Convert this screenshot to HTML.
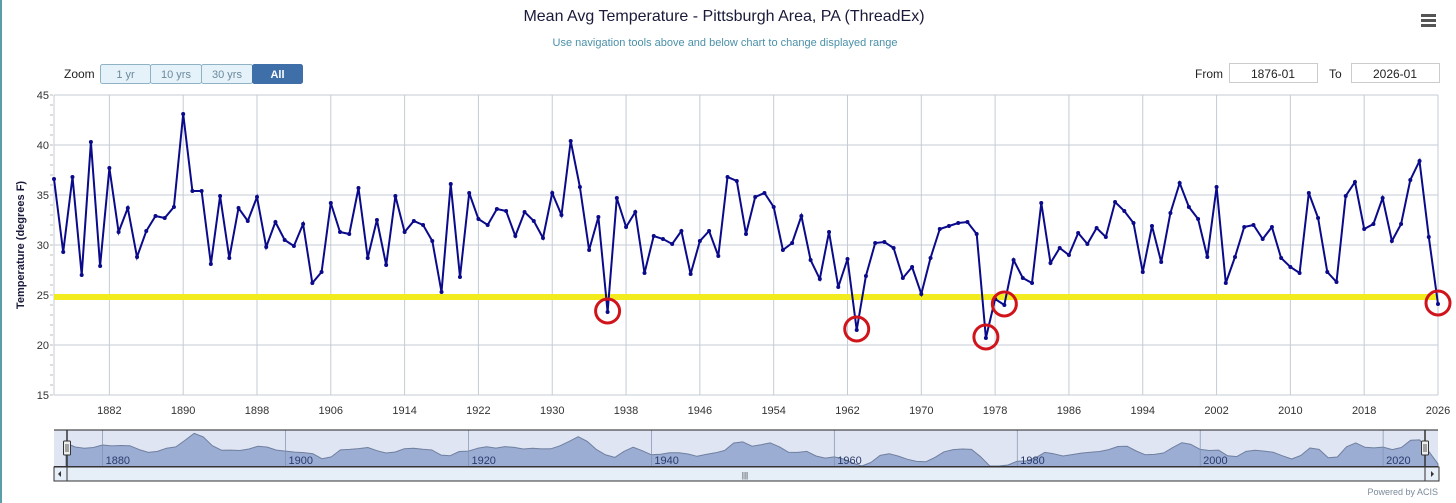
<!DOCTYPE html>
<html><head><meta charset="utf-8"><style>
html,body{margin:0;padding:0;background:#fff;width:1456px;height:503px;overflow:hidden;font-family:"Liberation Sans",sans-serif}
svg{position:absolute;left:0;top:0}
</style></head><body>
<svg id="c" width="1456" height="503" xmlns="http://www.w3.org/2000/svg"></svg>
<script>
const years=[];for(let y=1876;y<=2026;y++)years.push(y);
const temps=[36.6,29.3,36.8,27.0,40.3,27.9,37.7,31.3,33.7,28.8,31.4,32.9,32.7,33.8,43.1,35.4,35.4,28.1,34.9,28.7,33.7,32.4,34.8,29.8,32.3,30.5,29.9,32.1,26.2,27.3,34.2,31.3,
31.1,35.7,28.7,32.5,28.0,34.9,31.3,32.4,32.0,30.4,25.3,36.1,26.8,35.2,32.6,32.0,33.6,33.4,30.9,33.3,32.4,30.7,35.2,33.0,40.4,35.8,29.5,32.8,23.3,34.7,31.8,
33.3,27.2,30.9,30.6,30.1,31.4,27.1,30.4,31.4,28.9,36.8,36.4,31.1,34.8,35.2,33.8,29.5,30.2,32.9,28.5,26.6,31.3,25.8,28.6,21.5,26.9,30.2,30.3,29.7,26.7,27.8,
25.1,28.7,31.6,31.9,32.2,32.3,31.1,20.7,24.6,24.0,28.5,26.7,26.2,34.2,28.2,29.7,29.0,31.2,30.1,31.7,30.8,34.3,33.4,32.2,27.3,31.9,28.3,33.2,36.2,
33.8,32.6,28.8,35.8,26.2,28.8,31.8,32.0,30.6,31.8,28.7,27.8,27.2,35.2,32.7,27.3,26.3,34.9,36.3,31.6,32.1,34.7,30.4,32.1,36.5,38.4,30.8,24.1];
const threshold=24.8;
const circled=[1936,1963,1977,1979,2026];
const yTicks=[15,20,25,30,35,40,45];
const xTicks=[1882,1890,1898,1906,1914,1922,1930,1938,1946,1954,1962,1970,1978,1986,1994,2002,2010,2018,2026];
const navTicks=[1880,1900,1920,1940,1960,1980,2000,2020];

const NS="http://www.w3.org/2000/svg",svg=document.getElementById('c');
const L=54,R=1438,T=95,B=395;
const xs=y=>L+(y-1876)*(R-L)/150;
const ys=v=>T+(45-v)*(B-T)/30;
function mk(tag,at,parent){const e=document.createElementNS(NS,tag);for(const k in at)e.setAttribute(k,at[k]);(parent||svg).appendChild(e);return e;}
function tx(str,at){const e=mk('text',at);e.textContent=str;return e;}

let e=mk('line',{x1:1,y1:0,x2:1,y2:503,stroke:'#5a9ea6','stroke-width':2});


e=tx('Mean Avg Temperature - Pittsburgh Area, PA (ThreadEx)',{x:724,y:21,'text-anchor':'middle','font-size':16,fill:'#1a1a3a'});


e=tx('Use navigation tools above and below chart to change displayed range',{x:725,y:46,'text-anchor':'middle','font-size':11,fill:'#4a90a8'});


const hb=mk('g',{});


for(let i=0;i<3;i++)mk('rect',{x:1421,y:14+i*5,width:15,height:3,fill:'#555'},hb);
e=tx('Zoom',{x:64,y:78,'font-size':12,fill:'#222'});


const btns=[['1 yr',100,50],['10 yrs',150,51],['30 yrs',201,51],['All',252,50]];
btns.forEach((b,i)=>{const g=mk('g',{});


const act=i==3;
mk('rect',{x:b[1]+.5,y:64.5,width:b[2],height:19,rx:2,fill:act?'#3f6fa8':'#e6f2fa',stroke:act?'#3f6fa8':'#8fb3c4'},g);
const t=mk('text',{x:b[1]+b[2]/2+.5,y:78,'text-anchor':'middle','font-size':11,fill:act?'#fff':'#6a8a9a','font-weight':act?'bold':'normal'},g);t.textContent=b[0];});
e=tx('From',{x:1195,y:78,'font-size':12,fill:'#222'});


e=tx('To',{x:1329,y:78,'font-size':12,fill:'#222'});


[[1229,'1876-01','from-input'],[1351,'2026-01','to-input']].forEach(f=>{const g=mk('g',{});


mk('rect',{x:f[0]+.5,y:63.5,width:88,height:19,fill:'#fff',stroke:'#ccc'},g);
const t=mk('text',{x:f[0]+44,y:78,'text-anchor':'middle','font-size':12,fill:'#222'},g);t.textContent=f[1];});

const grid=mk('g',{});


yTicks.forEach(v=>{mk('line',{x1:L,x2:R,y1:ys(v),y2:ys(v),stroke:'#c4ccd4','stroke-width':1},grid);
const t=mk('text',{x:49,y:ys(v)+4,'text-anchor':'end','font-size':11,fill:'#333'},grid);t.textContent=v;});
for(let v=15;v<=45;v++)mk('line',{x1:L-4,x2:L-1,y1:ys(v),y2:ys(v),stroke:'#bbb'},grid);
xTicks.forEach(y=>{mk('line',{x1:xs(y),x2:xs(y),y1:T,y2:B,stroke:'#c4ccd4'},grid);
const t=mk('text',{x:xs(y),y:414,'text-anchor':'middle','font-size':11,fill:'#333'},grid);t.textContent=y;});
mk('line',{x1:L,x2:L,y1:T,y2:B,stroke:'#c4ccd4'},grid);
mk('line',{x1:R,x2:R,y1:T,y2:B,stroke:'#c4ccd4'},grid);
e=tx('Temperature (degrees F)',{x:0,y:0,transform:'translate(24,245) rotate(-90)','text-anchor':'middle','font-size':11,'font-weight':'bold',fill:'#1a1a3a'});



e=mk('line',{x1:L,x2:R,y1:ys(threshold),y2:ys(threshold),stroke:'#f2ec1e','stroke-width':6});


let d='';years.forEach((y,i)=>{d+=(i?'L':'M')+xs(y).toFixed(1)+' '+ys(temps[i]).toFixed(1);});
e=mk('path',{d:d,fill:'none',stroke:'#0a0a8a','stroke-width':2});


years.forEach((y,i)=>{const p=mk('circle',{cx:xs(y),cy:ys(temps[i]),r:2,fill:'#0a0a8a'});

});
circled.forEach(y=>{const i=years.indexOf(y);const c=mk('circle',{cx:xs(y),cy:ys(temps[i])-1,r:12,fill:'none',stroke:'#d0141c','stroke-width':3});

});

const nav=mk('g',{});


const NT=430,NB=467;
mk('rect',{x:L,y:NT,width:R-L,height:NB-NT,fill:'#dfe5f2'},nav);
const nx=y=>L+12+(y-1876)*(R-L-12)/150;
const ny=v=>Math.min(NB-1,Math.max(NT+2,433+(39-v)*28/12));
let nd='M'+nx(1876)+' '+NB;years.forEach((y,i)=>{const a=temps[i-1]??temps[i],c=temps[i+1]??temps[i];nd+='L'+nx(y).toFixed(1)+' '+ny(0.25*a+0.5*temps[i]+0.25*c).toFixed(1);});
nd+='L'+nx(2026)+' '+NB+'Z';
mk('path',{d:nd,fill:'#9cadd4',stroke:'#6f7f9f','stroke-width':1,'stroke-linejoin':'round'},nav);
navTicks.forEach(y=>{mk('line',{x1:nx(y),x2:nx(y),y1:NT,y2:NB,stroke:'#8090b0','stroke-width':.7},nav);
const t=mk('text',{x:nx(y)+3,y:NB-3,'font-size':11,fill:'#2a3a6a'},nav);t.textContent=y;});
mk('line',{x1:L,x2:R,y1:NT,y2:NT,stroke:'#222'},nav);
mk('line',{x1:L,x2:R,y1:NB,y2:NB,stroke:'#333','stroke-width':2},nav);
mk('rect',{x:L,y:NB,width:1385,height:14,fill:'#e6eef8',stroke:'#333'},nav);
mk('line',{x1:L+13,x2:L+13,y1:NB,y2:NB+14,stroke:'#333'},nav);
mk('line',{x1:R-13,x2:R-13,y1:NB,y2:NB+14,stroke:'#333'},nav);
mk('path',{d:`M${L+7} ${NB+4}L${L+4} ${NB+7}L${L+7} ${NB+10}Z`,fill:'#333'},nav);
mk('path',{d:`M${R-7} ${NB+4}L${R-4} ${NB+7}L${R-7} ${NB+10}Z`,fill:'#333'},nav);
mk('text',{x:745,y:NB+11,'font-size':8,fill:'#333','text-anchor':'middle'},nav).textContent='|||';
[L+13,R-13].forEach(x=>{mk('line',{x1:x,x2:x,y1:NT,y2:NB,stroke:'#333','stroke-width':1.5},nav);
mk('rect',{x:x-3.5,y:441,width:7,height:14,fill:'#eee',stroke:'#333',rx:1},nav);
mk('line',{x1:x-1,x2:x-1,y1:444,y2:452,stroke:'#555'},nav);mk('line',{x1:x+1,x2:x+1,y1:444,y2:452,stroke:'#555'},nav);});
e=tx('Powered by ACIS',{x:1438,y:495,'text-anchor':'end','font-size':9,fill:'#7a8a9a'});


</script>
</body></html>
